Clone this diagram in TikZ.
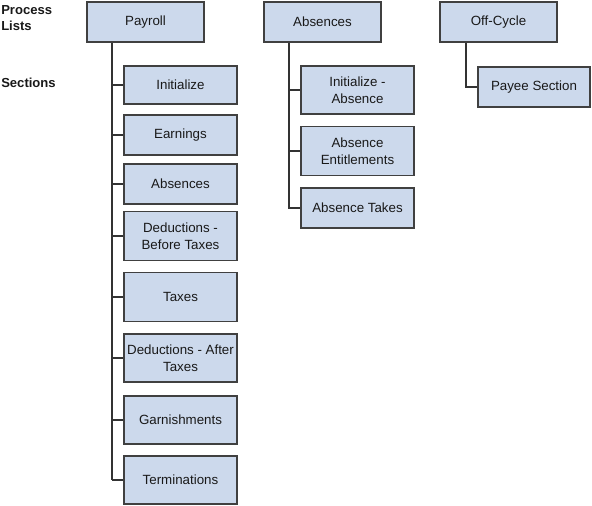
\documentclass[tikz,border=0pt]{standalone}
\usepackage{fontspec}
\setmainfont{Liberation Sans}
\begin{document}
\begin{tikzpicture}[x=0.75pt,y=-0.75pt,
  every node/.style={font=\fontsize{10}{12.4}\selectfont},
  box/.style={draw=boxline, fill=boxfill, line width=1.2pt, align=center, inner sep=1pt, text=black!90},
  topbox/.style={box, minimum width=117*0.75pt, minimum height=40*0.75pt},
  secbox/.style={box, minimum width=113*0.75pt},
  trunk/.style={draw=conn, line width=2.2pt},
  twig/.style={draw=conn, line width=1.5pt},
  lbl/.style={font=\bfseries\fontsize{9.8}{12}\selectfont, inner sep=0pt, align=left, text=black!90}
]
\definecolor{boxfill}{HTML}{CCD9EC}
\definecolor{boxline}{HTML}{404040}
\definecolor{conn}{HTML}{333333}
\useasboundingbox (0,0) rectangle (592,506);

% labels
\node[lbl, anchor=north west] (plbl) at (1,5) {Process\\Lists};
\node[lbl, anchor=base west] (slbl) at (1,88) {Sections};

% top level
\node[topbox] (payroll) at (145.5,22) {Payroll};
\node[topbox] (absences) at (322.5,22) {Absences};
\node[topbox] (offcycle) at (498.5,22) {Off-Cycle};

% payroll sections
\node[secbox, minimum height=38*0.75pt] (p1) at (180.5,85) {Initialize};
\node[secbox, minimum height=40*0.75pt] (p2) at (180.5,135) {Earnings};
\node[secbox, minimum height=40*0.75pt] (p3) at (180.5,184) {Absences};
\node[secbox, minimum height=49*0.75pt] (p4) at (180.5,236) {Deductions -\\Before Taxes};
\node[secbox, minimum height=49*0.75pt] (p5) at (180.5,297) {Taxes};
\node[secbox, minimum height=48*0.75pt] (p6) at (180.5,358) {Deductions - After\\Taxes};
\node[secbox, minimum height=48*0.75pt] (p7) at (180.5,420) {Garnishments};
\node[secbox, minimum height=48*0.75pt] (p8) at (180.5,480) {Terminations};

% absence sections
\node[secbox, minimum height=48*0.75pt] (a1) at (357.5,90) {Initialize -\\Absence};
\node[secbox, minimum height=49*0.75pt] (a2) at (357.5,151) {Absence\\Entitlements};
\node[secbox, minimum height=40*0.75pt] (a3) at (357.5,208) {Absence Takes};

% off-cycle section
\node[secbox, minimum height=40*0.75pt, minimum width=112*0.75pt] (o1) at (534,87) {Payee Section};

% trunks
\coordinate (ptr) at (112,0);
\coordinate (atr) at (289,0);
\coordinate (otr) at (466,0);

\draw[trunk] (ptr |- payroll.south) -- (ptr |- p8.west);
\foreach \n in {p1,p2,p3,p4,p5,p6,p7,p8}{
  \draw[twig] (ptr |- \n.west) -- (\n.west);
}
\draw[twig] (atr |- absences.south) |- (a3.west);
\draw[twig] (atr |- a1.west) -- (a1.west);
\draw[twig] (atr |- a2.west) -- (a2.west);
\draw[twig] (otr |- offcycle.south) |- (o1.west);
\end{tikzpicture}
\end{document}
